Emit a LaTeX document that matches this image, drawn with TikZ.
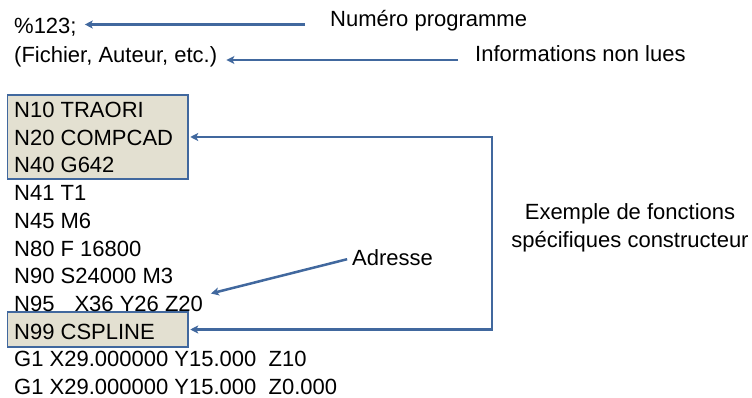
\documentclass[tikz,border=0pt]{standalone}
\usepackage{fontspec}
\setmainfont{Liberation Sans}
\usetikzlibrary{arrows.meta}
\definecolor{filbleu}{HTML}{41689E}
\definecolor{fondbox}{HTML}{E3E0D1}

\begin{document}
\begin{tikzpicture}[x=1pt,y=-1pt,
    code/.style={anchor=base west,inner sep=0pt,font=\fontsize{22}{27.7}\selectfont,
      text height=15.75pt,text depth=0pt},
    lbl/.style={code,anchor=west},
    note/.style={inner sep=0pt,align=center,font=\fontsize{22}{27.7}\selectfont},
    cbox/.style={draw=filbleu,fill=fondbox,line width=1.5pt,inner sep=0pt,minimum width=180.5pt},
    pointe/.tip={Stealth[length=8pt,width=8pt,inset=2pt]},
    fleche/.style={draw=filbleu,line width=2.5pt,-pointe}
  ]
  \useasboundingbox (0,0) rectangle (752,398);

  \node[cbox,minimum height=84pt] (box1) at (97.75,137) {};
  \node[cbox,minimum height=35pt] (box2) at (97.75,329.5) {};

  \node[code] (prog) at (14,34) {\%123;};
  \node[code] (fich) at (14,62.5) {(Fichier, Auteur, etc.)};
  \node[code] (n10) at (14,117.5) {N10 TRAORI};
  \node[code] (n20) at (14,145.2) {N20 COMPCAD};
  \node[code] (n40) at (14,172.9) {N40 G642};
  \node[code] (n41) at (14,200.6) {N41 T1};
  \node[code] (n45) at (14,228.3) {N45 M6};
  \node[code] (n80) at (14,256) {N80 F 16800};
  \node[code] (n90) at (14,283.7) {N90 S24000 M3};
  \node[code] (n95) at (14,311.4) {N95\hspace{20pt}X36 Y26 Z20};
  \node[code] (n99) at (14,339.1) {N99 CSPLINE};
  \node[code] (g1a) at (14,366.8) {G1 X29.000000 Y15.000\ \ Z10};
  \node[code] (g1b) at (14,394.5) {G1 X29.000000 Y15.000\ \ Z0.000};

  \node[lbl] (num) at (330,19) {Numéro programme};
  \node[lbl] (infos) at (475,54) {Informations non lues};
  \node[lbl] (adr) at (352,258) {Adresse};
  \node[note] (exemple) at (630,228) {Exemple de fonctions\\spécifiques constructeur};

  \coordinate (xr) at (492,0);

  \draw[fleche,shorten >=8pt] ([xshift=-25pt,yshift=-5.5pt]num.west) coordinate (d1) -- (d1 -| prog.east);
  \draw[fleche,shorten >=9pt] ([xshift=-17pt,yshift=-6pt]infos.west) coordinate (d2) -- (d2 -| fich.east);
  \draw[fleche,shorten <=5pt,shorten >=8pt] (adr.west) -- (n95.north east);
  \draw[fleche,pointe-pointe,shorten <=1.5pt,shorten >=1.5pt]
    (box1.east) -- (box1.east -| xr) -- (box2.east -| xr) -- (box2.east);
\end{tikzpicture}
\end{document}
